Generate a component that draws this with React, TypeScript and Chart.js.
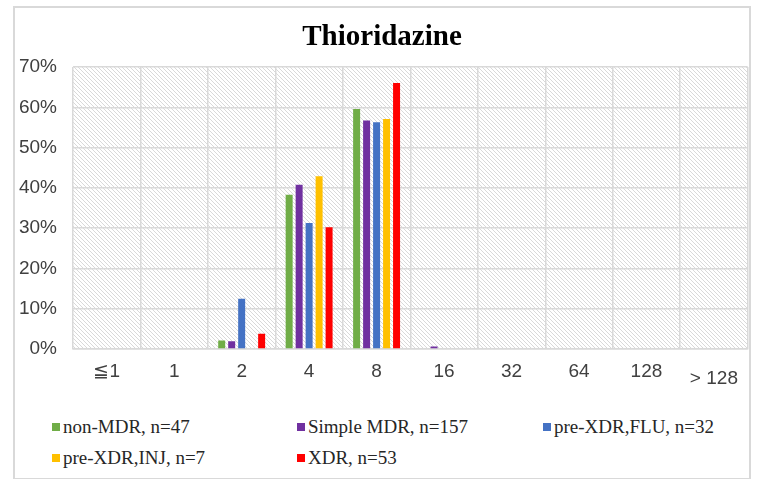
import React, { useEffect, useRef } from "react";
import { Chart, registerables } from "chart.js";

Chart.register(...registerables);

const categories = ["≦1", "1", "2", "4", "8", "16", "32", "64", "128", "> 128"];
const nonMDR = [0, 0, 2.1, 38.3, 59.6, 0, 0, 0, 0, 0];
const simpleMDR = [0, 0, 1.9, 40.8, 56.7, 0.6, 0, 0, 0, 0];
const preXDRFLU = [0, 0, 12.5, 31.3, 56.3, 0, 0, 0, 0, 0];
const preXDRINJ = [0, 0, 0, 42.9, 57.1, 0, 0, 0, 0, 0];
const xdr = [0, 0, 3.8, 30.2, 66.0, 0, 0, 0, 0, 0];
const seriesNames = ["non-MDR, n=47", "Simple MDR, n=157", "pre-XDR,FLU, n=32", "pre-XDR,INJ, n=7", "XDR, n=53"];
const seriesColors = ["#70AD47", "#7030A0", "#4472C4", "#FFC000", "#FF0000"];
const yMin = 0;
const yMax = 70;
const yStep = 10;

const tickFont = "19px 'Liberation Sans', Arial, sans-serif";
const lastIndex = categories.length - 1;

const hatchPlugin = {
  id: "hatch",
  beforeDraw(chart: any) {
    const { ctx, chartArea } = chart;
    if (!chartArea) return;
    const tile = document.createElement("canvas");
    tile.width = 4;
    tile.height = 4;
    const t = tile.getContext("2d")!;
    t.fillStyle = "#ffffff";
    t.fillRect(0, 0, 4, 4);
    t.fillStyle = "#d9d9d9";
    for (let i = 0; i < 4; i++) t.fillRect(i, i, 1, 1);
    const pattern = ctx.createPattern(tile, "repeat");
    ctx.save();
    ctx.fillStyle = pattern;
    ctx.fillRect(chartArea.left, chartArea.top, chartArea.right - chartArea.left, chartArea.bottom - chartArea.top);
    ctx.restore();
  },
  afterDraw(chart: any) {
    // the last category label sits a little lower, as in the reference
    const { ctx, chartArea } = chart;
    const xs = chart.scales.x;
    const x = xs.getPixelForTick(lastIndex);
    ctx.save();
    ctx.font = tickFont;
    ctx.fillStyle = "#404040";
    ctx.textAlign = "center";
    ctx.textBaseline = "middle";
    ctx.fillText(categories[lastIndex], x, chartArea.bottom + 30);
    ctx.restore();
  },
};

export default function App() {
  const ref = useRef<HTMLCanvasElement>(null);

  useEffect(() => {
    if (!ref.current) return;
    const data = [nonMDR, simpleMDR, preXDRFLU, preXDRINJ, xdr];
    const chart = new Chart(ref.current, {
      type: "bar",
      data: {
        labels: categories,
        datasets: data.map((d, i) => ({
          label: seriesNames[i],
          data: d,
          backgroundColor: seriesColors[i],
          borderWidth: 0,
          barPercentage: 0.7,
          categoryPercentage: 0.74,
        })),
      },
      options: {
        responsive: false,
        animation: false,
        devicePixelRatio: 1,
        layout: { padding: { left: 0, right: 1, top: 0, bottom: 0 } },
        plugins: {
          legend: { display: false },
          tooltip: { enabled: false },
          title: {
            display: true,
            text: "Thioridazine",
            color: "#000000",
            font: { family: "'Liberation Serif', 'Times New Roman', serif", size: 29, weight: "bold" },
            padding: { top: 11.6, bottom: 11.6 },
          },
        },
        scales: {
          x: {
            grid: { color: "#d9d9d9", lineWidth: 1.5, drawTicks: false, offset: true },
            border: { color: "#d9d9d9", width: 1.5 },
            ticks: {
              color: (c: any) => (c.index === lastIndex ? "rgba(0,0,0,0)" : "#404040"),
              font: { family: "'Liberation Sans', Arial, sans-serif", size: 19 },
              padding: 11,
              autoSkip: false,
              maxRotation: 0,
            },
            afterFit: (s: any) => {
              s.height = 40;
            },
          },
          y: {
            min: yMin,
            max: yMax,
            grid: { color: "#d9d9d9", lineWidth: 1.5, drawTicks: false },
            border: { display: false },
            ticks: {
              stepSize: yStep,
              color: "#404040",
              font: { family: "'Liberation Sans', Arial, sans-serif", size: 19 },
              padding: 16,
              callback: (v: any) => v + "%",
            },
            afterFit: (s: any) => {
              s.width = 57;
            },
          },
        },
      },
      plugins: [hatchPlugin],
    });
    return () => chart.destroy();
  }, []);

  const legendCols = [37, 282, 528];
  const legendRows = [418.5, 449.5];

  return (
    <div
      style={{
        position: "absolute",
        left: 13,
        top: 6,
        width: 738,
        height: 474,
        boxSizing: "border-box",
        border: "2px solid #d9d9d9",
        background: "#ffffff",
      }}
    >
      <canvas ref={ref} width={733} height={380} style={{ position: "absolute", left: 1, top: 1, width: 733, height: 380 }} />
      {seriesNames.map((name, i) => (
        <div
          key={name}
          style={{
            position: "absolute",
            left: legendCols[i % 3],
            top: legendRows[Math.floor(i / 3)] - 11,
            height: 22,
            display: "flex",
            alignItems: "center",
            whiteSpace: "nowrap",
            fontFamily: "'Liberation Serif', 'Times New Roman', serif",
            fontSize: 19,
            color: "#262626",
          }}
        >
          <span style={{ display: "inline-block", width: 8, height: 8, background: seriesColors[i], marginRight: 3 }} />
          <span>{name}</span>
        </div>
      ))}
    </div>
  );
}
